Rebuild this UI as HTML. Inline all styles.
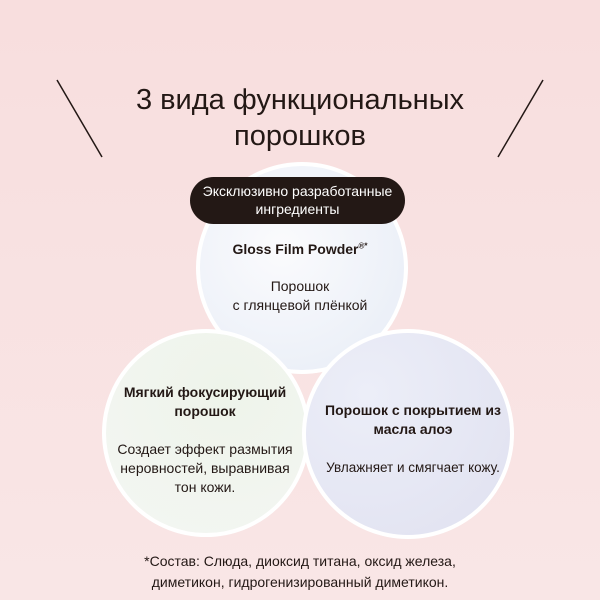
<!DOCTYPE html>
<html><head><meta charset="utf-8"><style>
body{margin:0;width:600px;height:600px;overflow:hidden;background:linear-gradient(#f8dede,#f9e6e6);font-family:"Liberation Sans","Noto Sans CJK SC",sans-serif;color:#231815;position:relative}
.t{position:absolute;left:0;width:600px;text-align:center}
.c{position:absolute;border-radius:50%;border:4px solid #fff;box-sizing:border-box}
</style></head><body>
<svg width="600" height="600" style="position:absolute;left:0;top:0">
<line x1="57" y1="80" x2="102" y2="157" stroke="#231815" stroke-width="1.5"/>
<line x1="543" y1="80" x2="498" y2="157" stroke="#231815" stroke-width="1.5"/>
</svg>
<div class="t" style="top:82px;font-size:29px;line-height:36px">3 вида функциональных<br>порошков</div>
<div class="c" style="left:196px;top:162px;width:212px;height:212px;background:radial-gradient(circle at 40% 40%,#fbfbfd,#e6ecf6)"></div>
<div class="c" style="left:102px;top:329px;width:208px;height:208px;background:radial-gradient(circle at 60% 30%,#eef4ea,#f4f6f3)"></div>
<div class="c" style="left:302px;top:329px;width:212px;height:210px;background:radial-gradient(circle at 30% 30%,#eceef8,#e0e1f0)"></div>
<div style="position:absolute;left:190px;top:177px;width:215px;height:47px;border-radius:24px;background:#231815;color:#fff;text-align:center;font-size:14px;line-height:18px;padding-top:5px;box-sizing:border-box">Эксклюзивно разработанные<br>ингредиенты</div>
<div class="t" style="top:241px;left:0;font-size:14px;font-weight:bold">Gloss Film Powder<sup style="font-size:8px">®*</sup></div>
<div class="t" style="top:277px;font-size:14px;line-height:19px">Порошок<br>с глянцевой плёнкой</div>
<div style="position:absolute;left:105px;width:200px;top:383px;text-align:center;font-size:14px;line-height:19px;font-weight:bold">Мягкий фокусирующий<br>порошок</div>
<div style="position:absolute;left:105px;width:200px;top:440px;text-align:center;font-size:14px;line-height:19px">Создает эффект размытия<br>неровностей, выравнивая<br>тон кожи.</div>
<div style="position:absolute;left:308px;width:210px;top:401px;text-align:center;font-size:14px;line-height:19px;font-weight:bold">Порошок с покрытием из<br>масла алоэ</div>
<div style="position:absolute;left:308px;width:210px;top:458px;text-align:center;font-size:13.5px;line-height:19px">Увлажняет и смягчает кожу.</div>
<div class="t" style="top:551px;font-size:14px;line-height:21px">*Состав: Слюда, диоксид титана, оксид железа,<br>диметикон, гидрогенизированный диметикон.</div>
</body></html>
